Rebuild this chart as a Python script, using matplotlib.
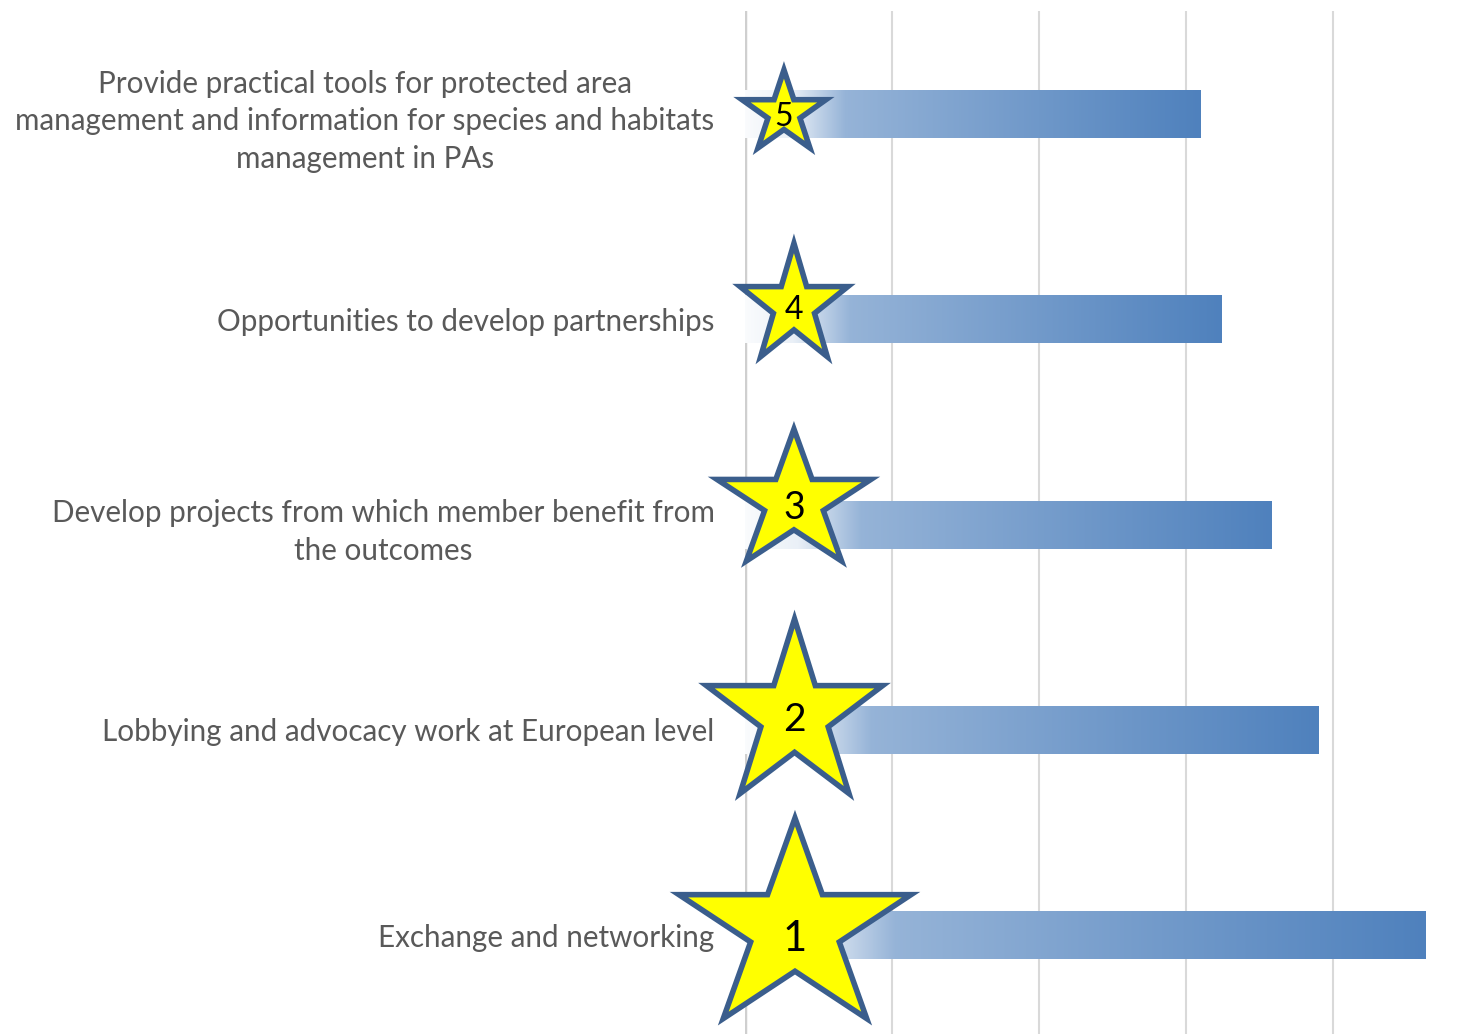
"""Ranked member priorities: gradient bars with star badges"""

import numpy as np
import matplotlib.pyplot as plt
from matplotlib.patches import Polygon

plt.rcParams['font.family'] = ['Lato', 'DejaVu Sans']

# data (bottom to top)
labels = [
    "Exchange and networking",
    "Lobbying and advocacy work at European level",
    "Develop projects from which member benefit from\nthe outcomes",
    "Opportunities to develop partnerships",
    "Provide practical tools for protected area\nmanagement and information for species and habitats\nmanagement in PAs",
]
ranks = [1, 2, 3, 4, 5]
scores = [4.63, 3.90, 3.58, 3.24, 3.10]

# star badge geometry in data units: (cx, cy offset, rx, ry, digit offset, digit size)
star_geom = [
    (0.34, 0.03, 0.83, 0.54, 0.0, 30),
    (0.337, 0.07, 0.63, 0.47, 0.065, 28),
    (0.333, 0.11, 0.55, 0.355, 0.098, 27),
    (0.333, 0.065, 0.385, 0.305, 0.058, 23),
    (0.265, 0.005, 0.30, 0.21, -0.002, 23),
]

blue = np.array([79, 129, 189]) / 255
white = np.ones(3)


def star_points(cx, cy, rx, ry, inner=0.382):
    ang = np.pi / 2 + np.arange(10) * np.pi / 5
    r = np.where(np.arange(10) % 2 == 0, 1.0, inner)
    return np.column_stack([cx + rx * r * np.cos(ang), cy + ry * r * np.sin(ang)])


# gradient ramp: fast rise at the left, then linear to full blue
s = np.linspace(0, 1, 400)
t = np.interp(s, [0, 0.1, 0.22, 1], [0.03, 0.12, 0.6, 1.0])
grad = (white[None, :] * (1 - t[:, None]) + blue[None, :] * t[:, None])[None, :, :]

fig = plt.figure(figsize=(14.68, 10.34), dpi=100)
ax = fig.add_axes([745 / 1468, 0, 1 - 745 / 1468, 1 - 11 / 1034])

y = np.arange(len(labels))
bars = ax.barh(y, scores, height=0.234, color='none', edgecolor='none', zorder=2)
for b in bars:
    x0, y0 = b.get_x(), b.get_y()
    im = ax.imshow(grad, extent=[x0, x0 + b.get_width(), y0, y0 + b.get_height()],
                   aspect='auto', interpolation='bilinear', zorder=2)
    im.set_clip_path(b)

for i, (cx, dy, rx, ry, ty, fs) in enumerate(star_geom):
    ax.add_patch(Polygon(star_points(cx, y[i] + dy, rx, ry), closed=True,
                         facecolor='#ffff00', edgecolor='#3b5e8c', lw=4,
                         joinstyle='miter', zorder=4, clip_on=False))
    ax.text(cx, y[i] + ty, str(ranks[i]), ha='center', va='center_baseline',
            fontsize=fs, color='black', zorder=5, clip_on=False)

ax.set_xlim(0, (1468 - 745) / 147)
ax.set_ylim(-0.482, 4.502)
ax.set_xticks([0, 1, 2, 3, 4])
ax.set_xticklabels([])
ax.grid(axis='x', color='#d9d9d9', lw=1.5, zorder=0)
ax.axvline(0, color='#cfcfcf', lw=2.5, zorder=1)
ax.set_axisbelow(True)
ax.set_yticks(y)
ax.set_yticklabels(labels, fontsize=21.3, color='#595959', ha='right',
                   multialignment='center', linespacing=1.42)
ax.tick_params(axis='both', length=0, pad=22)
for sp in ax.spines.values():
    sp.set_visible(False)

fig.savefig('out.png', dpi=100)
